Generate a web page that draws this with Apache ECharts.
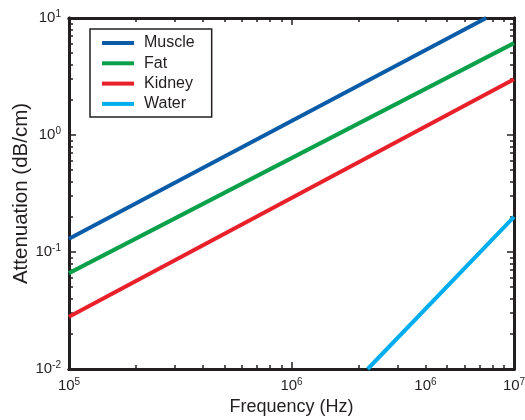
<!DOCTYPE html>
<html><head><meta charset="utf-8">
<script src="https://cdn.jsdelivr.net/npm/echarts@6/dist/echarts.min.js"></script>
<style>html,body{margin:0;padding:0;background:#fff}#c{width:525px;height:420px}</style>
</head><body><div id="c"></div>
<script>
const seriesNames = ['Muscle', 'Fat', 'Kidney', 'Water'];
const muscle = [[1e5, 0.13], [7.5e6, 10]];
const fat = [[1e5, 0.066], [1e7, 6.1]];
const kidney = [[1e5, 0.028], [1e7, 3.0]];
const water = [[2.2e6, 0.01], [1e7, 0.2]];
const colors = ['#0b5ca8', '#0aa14a', '#e8202a', '#00aeef'];
const xLabelTicks = [1e5, 1e6, 4e6, 1e7];
const xMajorTicks = [1e5, 1e6, 1e7];
const xMinorTicks = [2e5,3e5,4e5,5e5,6e5,7e5,8e5,9e5,2e6,3e6,4e6,5e6,6e6,7e6,8e6,9e6];
const yMajorTicks = [0.01, 0.1, 1, 10];
const yMinorTicks = [0.02,0.03,0.04,0.05,0.06,0.07,0.08,0.09,0.2,0.3,0.4,0.5,0.6,0.7,0.8,0.9,2,3,4,5,6,7,8,9];

const FONT = '"Liberation Sans", Arial, Helvetica, sans-serif';
const INK = '#231f20';
function expLabel(v) {
  const e = Math.floor(Math.log10(v) + 1e-9);
  return '{b|10}{s|' + e + '}';
}
const rich = {
  b: {fontSize: 15, fontFamily: FONT, color: INK},
  s: {fontSize: 10, fontFamily: FONT, color: INK, padding: [0, 0, 8, 0]}
};
function axisBase(type, pos, ticks, len, labels) {
  const a = {
    type: 'log', logBase: 10, position: pos,
    min: type === 'x' ? 1e5 : 0.01, max: type === 'x' ? 1e7 : 10,
    axisLine: {show: true, onZero: false, lineStyle: {color: INK, width: 3}},
    axisTick: {show: true, inside: true, length: len, customValues: ticks, lineStyle: {color: INK, width: 1.5}},
    axisLabel: {show: false},
    splitLine: {show: false}, minorTick: {show: false}, minorSplitLine: {show: false}
  };
  if (labels) {
    a.axisLabel = {show: true, customValues: labels, formatter: expLabel, rich: rich, margin: 8};
  }
  return a;
}
const xAxes = [
  Object.assign(axisBase('x', 'bottom', xMajorTicks, 7, xLabelTicks), {
    name: 'Frequency (Hz)', nameLocation: 'middle', nameGap: 29, nameMoveOverlap: false,
    nameTextStyle: {fontSize: 18, fontFamily: FONT, color: INK}
  }),
  axisBase('x', 'bottom', xMinorTicks, 4, null),
  axisBase('x', 'top', xMajorTicks, 7, null),
  axisBase('x', 'top', xMinorTicks, 4, null)
];
const yAxes = [
  Object.assign(axisBase('y', 'left', yMajorTicks, 7, yMajorTicks), {
    name: 'Attenuation (dB/cm)', nameLocation: 'middle', nameGap: 37, nameRotate: 90, nameMoveOverlap: false,
    nameTextStyle: {fontSize: 20.5, fontFamily: FONT, color: INK}
  }),
  axisBase('y', 'left', yMinorTicks, 4, null),
  axisBase('y', 'right', yMajorTicks, 7, null),
  axisBase('y', 'right', yMinorTicks, 4, null)
];
const datasets = [muscle, fat, kidney, water];
const option = {
  animation: false,
  backgroundColor: '#fff',
  grid: {left: 69, right: 11, top: 18, bottom: 51, containLabel: false, outerBoundsMode: 'none'},
  xAxis: xAxes,
  yAxis: yAxes,
  legend: {
    orient: 'vertical', left: 90, top: 29,
    data: seriesNames,
    icon: 'rect', itemWidth: 32, itemHeight: 4, itemGap: 4.3,
    padding: [6, 17, 5, 12],
    borderColor: INK, borderWidth: 1.5, backgroundColor: '#fff',
    textStyle: {fontSize: 16, fontFamily: FONT, color: INK, lineHeight: 16, padding: [0, 0, 0, 5]}
  },
  series: datasets.map((d, i) => ({
    name: seriesNames[i], type: 'line', data: d,
    xAxisIndex: 0, yAxisIndex: 0,
    showSymbol: false, symbol: 'none', clip: true,
    color: colors[i],
    lineStyle: {color: colors[i], width: 4}
  }))
};
const chart = echarts.init(document.getElementById('c'), null, {renderer: 'canvas'});
chart.setOption(option);
</script></body></html>
